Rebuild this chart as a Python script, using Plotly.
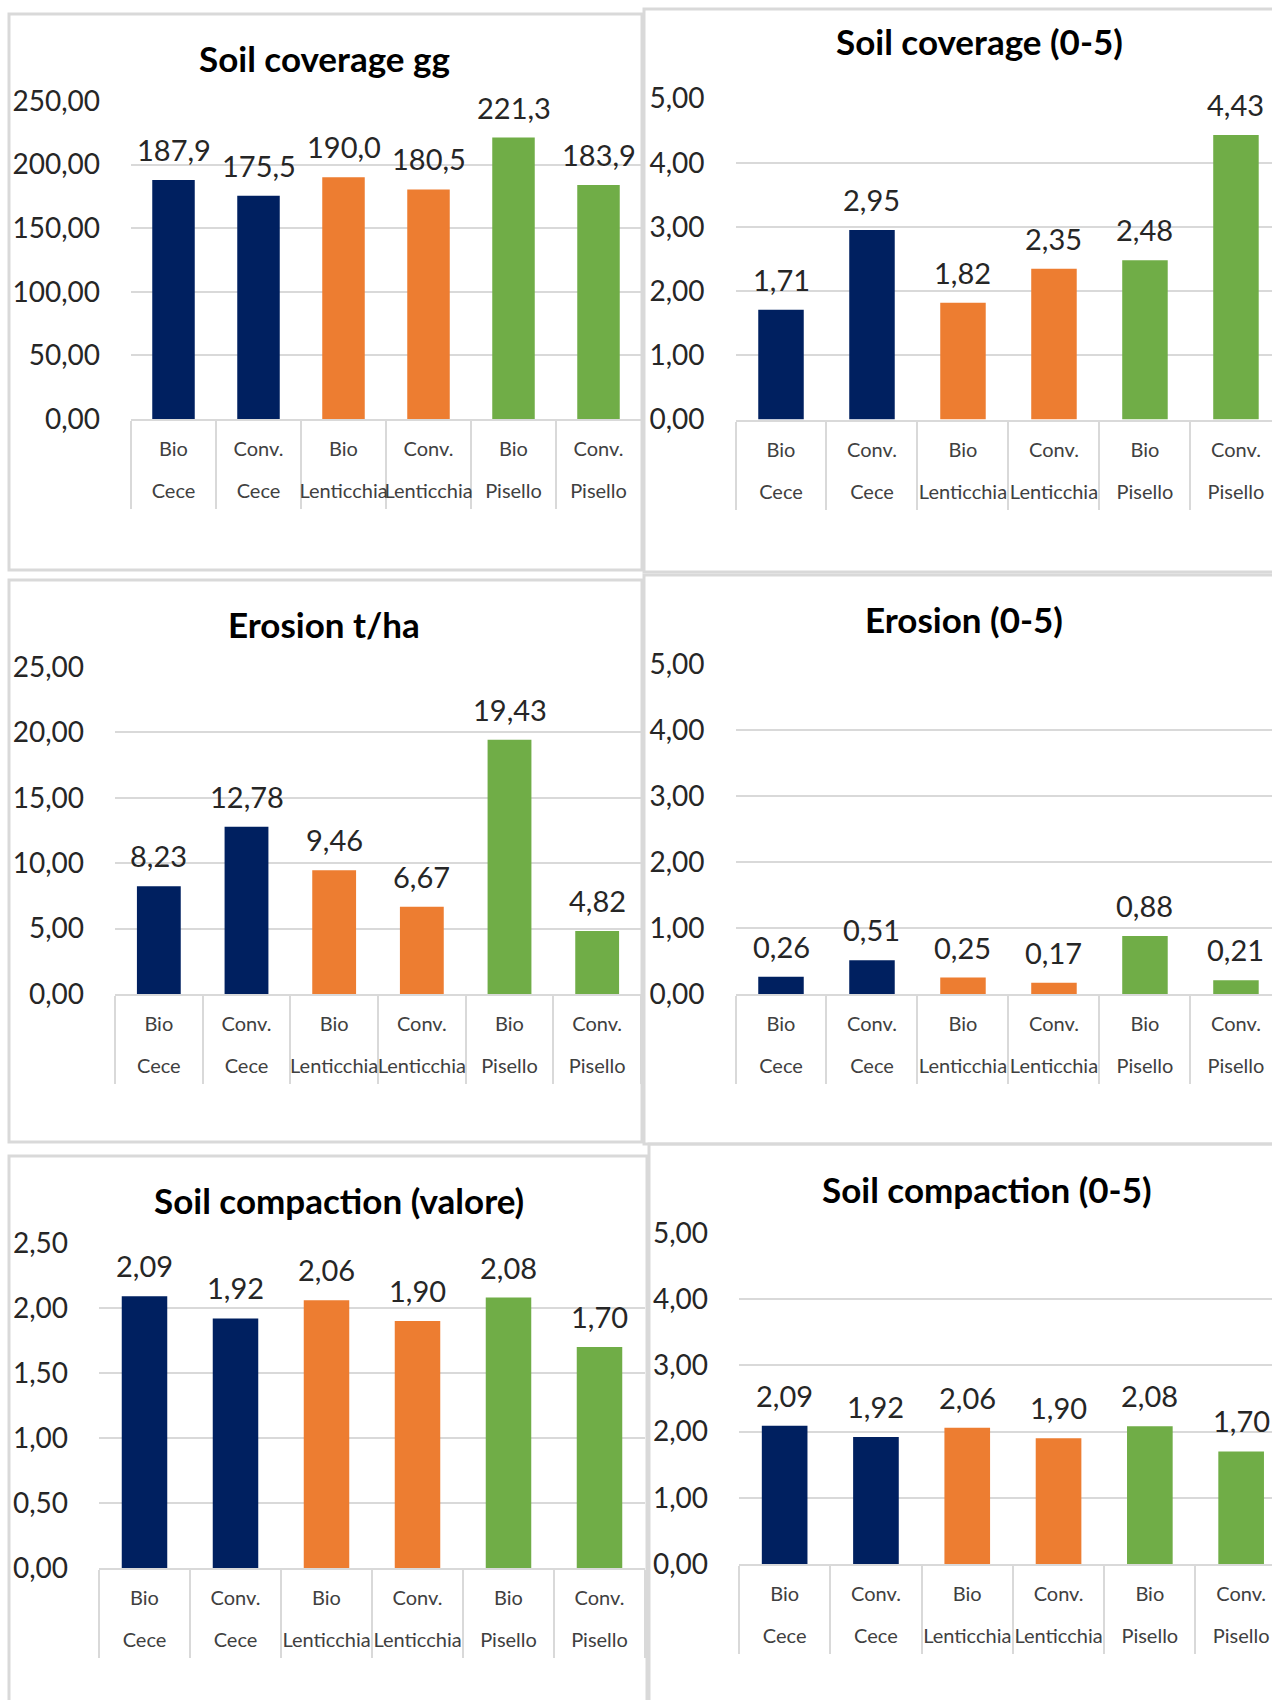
import plotly.graph_objects as go

# ---- data -------------------------------------------------------------
methods = ["Bio", "Conv.", "Bio", "Conv.", "Bio", "Conv."]
crops = ["Cece", "Cece", "Lenticchia", "Lenticchia", "Pisello", "Pisello"]

soil_coverage_gg = [187.9, 175.5, 190.0, 180.5, 221.3, 183.9]
soil_coverage_score = [1.71, 2.95, 1.82, 2.35, 2.48, 4.43]
erosion_t_ha = [8.23, 12.78, 9.46, 6.67, 19.43, 4.82]
erosion_score = [0.26, 0.51, 0.25, 0.17, 0.88, 0.21]
compaction_value = [2.09, 1.92, 2.06, 1.90, 2.08, 1.70]
compaction_score = [2.09, 1.92, 2.06, 1.90, 2.08, 1.70]

titles = ["Soil coverage gg", "Soil coverage (0-5)", "Erosion t/ha",
          "Erosion (0-5)", "Soil compaction (valore)", "Soil compaction (0-5)"]
series = [soil_coverage_gg, soil_coverage_score, erosion_t_ha,
          erosion_score, compaction_value, compaction_score]
y_max = [250, 5, 25, 5, 2.5, 5]
y_step = [50, 1, 5, 1, 0.5, 1]
label_decimals = [1, 2, 2, 2, 2, 2]

# ---- styling ----------------------------------------------------------
W, H = 1272, 1700
NAVY, ORANGE, GREEN = "#002060", "#ED7D31", "#70AD47"
bar_colors = [NAVY, NAVY, ORANGE, ORANGE, GREEN, GREEN]
GRID = "#d9d9d9"
FONT = "Lato"
TXT = "#262626"
CAT_TXT = "#404040"

# pixel layout of each chart: plot box (left, right, top, bottom),
# visible end of the category range, title centre, frame box
panels = [
    dict(plot=(131, 641, 101, 419), xend=5.5, title=(324, 58), frame=(9, 14, 642, 570)),
    dict(plot=(735.5, 1272, 98.5, 419.5), xend=5.396, title=(979, 41), frame=(644, 9, 1300, 572)),
    dict(plot=(115, 641, 667, 994), xend=5.5, title=(324, 624), frame=(9, 580, 642, 1142)),
    dict(plot=(735.5, 1272, 664, 994), xend=5.396, title=(964, 619), frame=(644, 575, 1300, 1144)),
    dict(plot=(99, 645, 1243, 1568), xend=5.5, title=(339, 1200), frame=(9, 1156, 647, 1720)),
    dict(plot=(739, 1272, 1233, 1564), xend=5.338, title=(987, 1189), frame=(649, 1144, 1300, 1720)),
]


def px(x):
    return x / W


def py(y):
    return 1 - y / H


cat_keys = [f"{m} {c}" for m, c in zip(methods, crops)]
cat_index = list(range(len(crops)))

fig = go.Figure()
layout = dict(
    width=W, height=H,
    margin=dict(l=0, r=0, t=0, b=0, autoexpand=False),
    paper_bgcolor="white", plot_bgcolor="white",
    showlegend=False,
    separators=",.",
    font=dict(family=FONT, color=TXT),
    bargap=0.5,
)
annotations = []
shapes = []

for i, (spec, vals) in enumerate(zip(panels, series)):
    n = i + 1
    xa = "xaxis" if n == 1 else f"xaxis{n}"
    ya = "yaxis" if n == 1 else f"yaxis{n}"
    xr = "x" if n == 1 else f"x{n}"
    yr = "y" if n == 1 else f"y{n}"
    ov_name = f"xaxis{n + 6}"
    ov_ref = f"x{n + 6}"
    left, right, top, bottom = spec["plot"]
    xrange = [-0.5, spec["xend"]]

    fig.add_trace(go.Bar(
        x=cat_keys, y=vals, xaxis=xr, yaxis=yr,
        marker=dict(color=bar_colors, line=dict(width=0)),
        hoverinfo="skip", cliponaxis=False,
    ))
    # invisible companion trace so the crop-name axis gets drawn
    fig.add_trace(go.Scatter(
        x=cat_index, y=vals, xaxis=ov_ref, yaxis=yr,
        mode="markers", marker=dict(opacity=0, size=1),
        hoverinfo="skip",
    ))

    layout[xa] = dict(
        domain=[px(left), px(right)], anchor=yr,
        type="category", categoryorder="array", categoryarray=cat_keys,
        range=xrange,
        tickmode="array", tickvals=cat_keys, ticktext=methods,
        ticks="outside", tickson="boundaries", ticklen=88,
        tickcolor=GRID, tickwidth=2, tickangle=0,
        showline=True, linecolor=GRID, linewidth=2,
        showgrid=False, zeroline=False,
        tickfont=dict(family=FONT, size=20, color=CAT_TXT),
        ticklabelstandoff=11,
        fixedrange=True,
    )
    # second row of category labels (crop names)
    layout[ov_name] = dict(
        overlaying=xr, anchor=yr, side="bottom",
        type="linear", range=xrange,
        tickmode="array", tickvals=cat_index, ticktext=crops,
        ticks="", ticklen=0, tickangle=0,
        showline=False, showgrid=False, zeroline=False,
        tickfont=dict(family=FONT, size=20, color=CAT_TXT),
        ticklabelstandoff=58,
        fixedrange=True,
    )
    layout[ya] = dict(
        domain=[py(bottom), py(top)], anchor=xr,
        range=[0, y_max[i]], dtick=y_step[i], tick0=0,
        tickformat=".2f",
        showgrid=True, gridcolor=GRID, gridwidth=2,
        zeroline=False, showline=False, ticks="",
        tickfont=dict(family=FONT, size=28, color=TXT),
        ticklabelstandoff=30,
        fixedrange=True,
    )

    # value labels above the bars
    d = label_decimals[i]
    for k, v in zip(cat_keys, vals):
        annotations.append(dict(
            x=k, y=v, xref=xr, yref=yr,
            text=f"{v:.{d}f}".replace(".", ","),
            showarrow=False, xanchor="center", yanchor="bottom", yshift=11,
            font=dict(family=FONT, size=29, color=TXT),
        ))

    # chart title
    tx, ty = spec["title"]
    annotations.append(dict(
        x=px(tx), y=py(ty), xref="paper", yref="paper",
        text=f"<b>{titles[i]}</b>", showarrow=False,
        xanchor="center", yanchor="middle",
        font=dict(family=FONT, size=35, color="black"),
    ))

    # chart frame
    fx0, fy0, fx1, fy1 = spec["frame"]
    shapes.append(dict(
        type="rect", xref="paper", yref="paper", layer="below",
        x0=px(fx0), x1=px(fx1), y0=py(fy1), y1=py(fy0),
        line=dict(color=GRID, width=3), fillcolor="rgba(0,0,0,0)",
    ))

layout["annotations"] = annotations
layout["shapes"] = shapes
fig.update_layout(**layout)

fig.write_html("out.html", config={"displayModeBar": False})
